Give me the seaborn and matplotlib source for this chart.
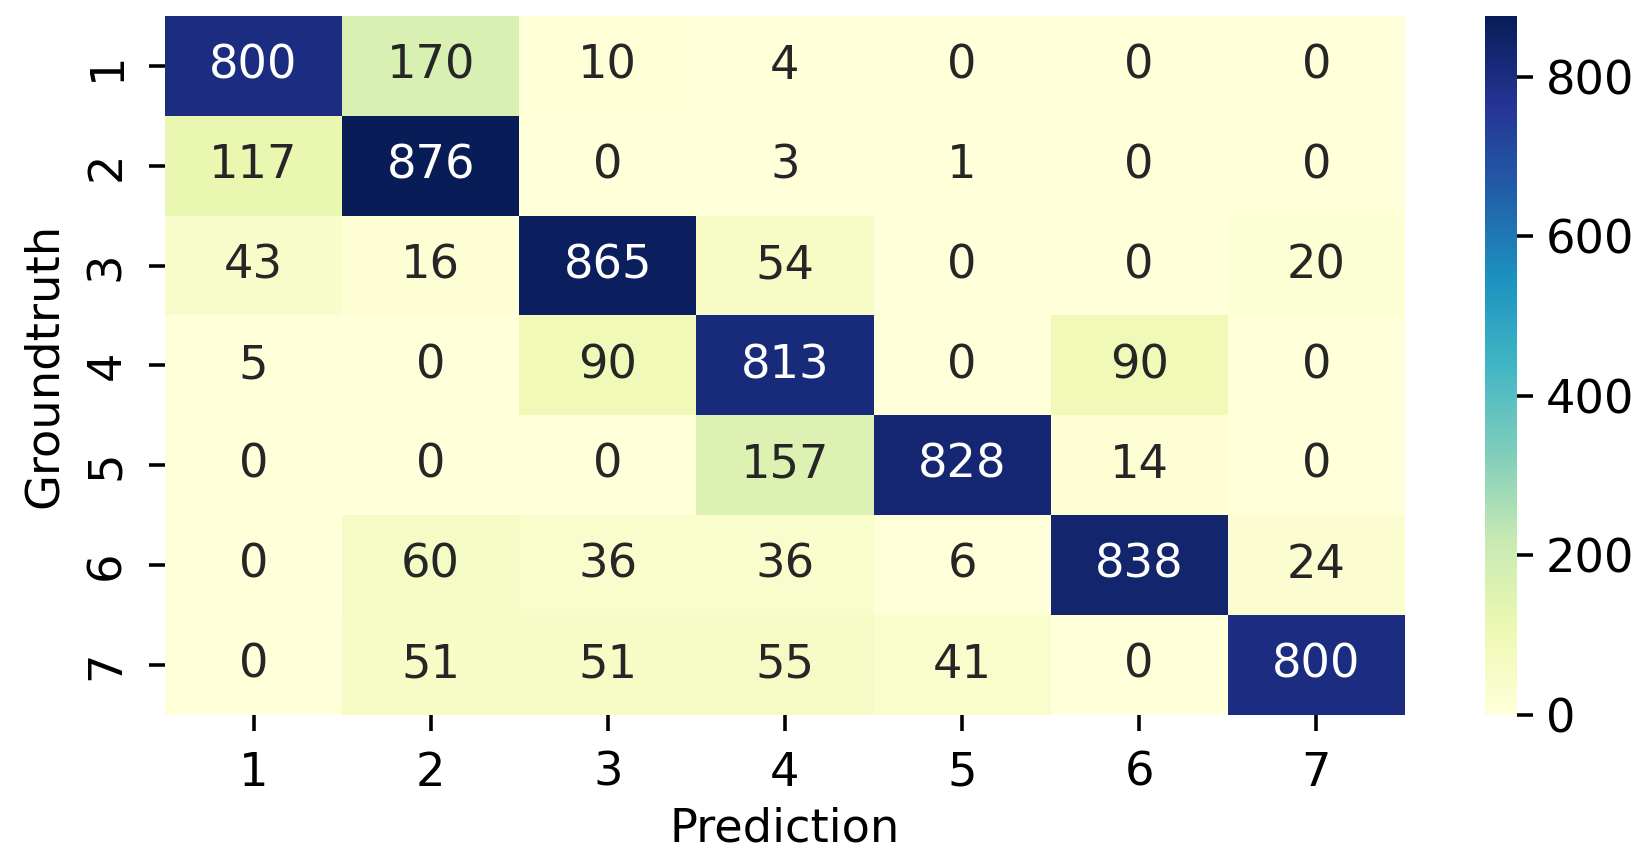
import matplotlib
matplotlib.use("Agg")
import matplotlib.pyplot as plt
import seaborn as sns
import numpy as np

labels = [1, 2, 3, 4, 5, 6, 7]
row1 = [800, 170, 10, 4, 0, 0, 0]
row2 = [117, 876, 0, 3, 1, 0, 0]
row3 = [43, 16, 865, 54, 0, 0, 20]
row4 = [5, 0, 90, 813, 0, 90, 0]
row5 = [0, 0, 0, 157, 828, 14, 0]
row6 = [0, 60, 36, 36, 6, 838, 24]
row7 = [0, 51, 51, 55, 41, 0, 800]
cbar_ticks = [0, 200, 400, 600, 800]

cm = np.array([row1, row2, row3, row4, row5, row6, row7])

plt.rcParams['font.size'] = 13
plt.rcParams['xtick.major.size'] = 4.5
plt.rcParams['ytick.major.size'] = 4.5
plt.rcParams['xtick.major.width'] = 1.0
plt.rcParams['ytick.major.width'] = 1.0
plt.rcParams['xtick.major.pad'] = 5.5
plt.rcParams['ytick.major.pad'] = 5.5

fig = plt.figure(figsize=(6.4, 3.325), dpi=256.6)
ax = fig.add_axes([0.1005, 0.162, 0.755, 0.819])
cax = fig.add_axes([0.904, 0.162, 0.02, 0.819])

sns.heatmap(cm, annot=True, fmt='d', cmap='YlGnBu', xticklabels=labels,
            yticklabels=labels, ax=ax, cbar_ax=cax,
            annot_kws={'fontsize': 13})
cax.set_yticks(cbar_ticks)
cax.tick_params(labelsize=13, pad=3.5)
ax.set_xlabel('Prediction', labelpad=3)
ax.set_ylabel('Groundtruth', labelpad=5)

fig.savefig('out.png', dpi=256.6)
